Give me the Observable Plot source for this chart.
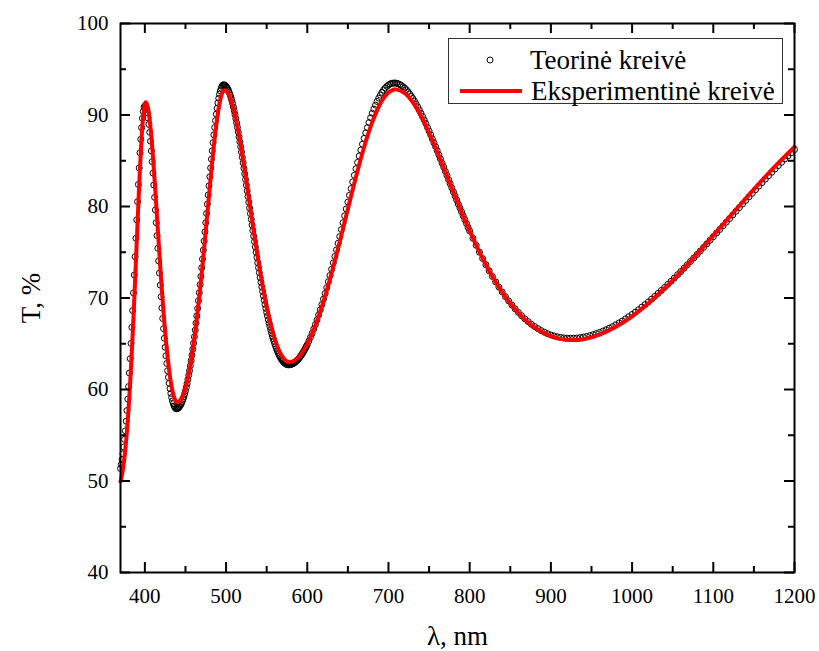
<!DOCTYPE html>
<html><head><meta charset="utf-8">
<script src="https://cdn.jsdelivr.net/npm/d3@7"></script>
<script src="https://cdn.jsdelivr.net/npm/@observablehq/plot@0.6"></script>
<style>
html,body{margin:0;padding:0;background:#fff;}
#wrap{position:relative;width:819px;height:651px;}
#legend{position:absolute;left:448px;top:38px;}
#legend svg{overflow:visible;}
</style></head><body><div id="wrap"></div>
<script>
// Tick values
const xTicksMajor = [400,500,600,700,800,900,1000,1100,1200];
const xTicksMinor = [450,550,650,750,850,950,1050,1150];
const yTicksMajor = [40,50,60,70,80,90,100];
const yTicksMinor = [45,55,65,75,85,95];

// Series names
const seriesNames = ["Teorinė kreivė", "Eksperimentinė kreivė"];

// Theoretical curve (circles): 370–600 nm every 1 nm
const theoryStart1 = 370, theoryStep1 = 1;
const theoryT1 = [
51.37,51.81,52.34,52.97,53.71,54.55,55.49,56.54,57.70,58.96,60.32,61.80,63.37,65.04,66.80,68.63,70.55,72.51,74.51,76.53,78.54,80.52,82.41,84.21,85.87,87.34,88.61,89.64,90.38,90.84,91.00,
90.92,90.66,90.25,89.68,88.97,88.11,87.14,86.07,84.90,83.65,82.35,81.00,79.62,78.23,76.83,75.44,74.06,72.72,71.41,70.14,68.92,67.76,66.65,65.60,64.61,63.69,62.84,62.05,61.33,60.68,60.09,59.58,59.13,58.75,58.45,58.21,58.04,57.93,57.90,
57.92,57.96,58.05,58.16,58.30,58.48,58.69,58.93,59.21,59.52,59.86,60.23,60.64,61.08,61.55,62.05,62.59,63.16,63.76,64.40,65.06,65.76,66.49,67.25,68.04,68.86,69.71,70.58,71.46,72.36,73.30,74.26,75.23,76.22,77.23,78.23,79.24,80.26,81.26,82.26,83.25,84.22,85.17,86.09,86.98,87.83,88.63,89.39,90.09,90.74,91.32,91.83,92.27,92.64,92.93,93.13,93.26,93.30,
93.28,93.23,93.14,93.02,92.87,92.68,92.45,92.20,91.91,91.60,91.26,90.88,90.48,90.06,89.61,89.14,88.65,88.15,87.62,87.08,86.52,85.95,85.37,84.77,84.17,83.56,82.95,82.33,81.71,81.09,80.46,79.84,79.22,78.60,77.98,77.37,76.77,76.17,75.58,75.00,74.43,73.86,73.31,72.77,72.23,71.72,71.21,70.71,70.23,69.76,69.31,68.87,68.44,68.03,67.63,67.25,66.88,66.53,66.19,65.86,65.56,65.26,64.99,64.73,64.48,64.25,64.04,63.84,63.66,63.49,63.34,63.21,63.09,62.98,62.90,62.83,62.77,62.73,62.71,62.70,
62.70,62.72,62.74,62.77,62.81,62.86,62.92,62.98,63.06,63.14,63.23,63.32,63.43,63.54,63.67,63.80,63.93,64.08,64.23,64.39,64.56,64.73,64.91
];
// 602–800 nm every 2 nm
const theoryStart2 = 602, theoryStep2 = 2;
const theoryT2 = [
65.30,65.71,66.14,66.61,67.10,67.60,68.14,68.70,69.28,69.88,70.50,71.13,71.79,72.46,73.14,73.84,74.54,75.26,75.98,76.71,77.48,78.23,78.98,79.73,80.48,81.22,81.96,82.69,83.41,84.13,84.82,85.51,86.17,86.81,87.44,88.04,88.62,89.17,89.70,90.19,90.65,91.08,91.48,91.84,92.17,92.47,92.73,92.95,93.13,93.28,93.39,93.46,93.49,
93.50,93.47,93.41,93.33,93.22,93.09,92.93,92.75,92.54,92.31,92.06,91.79,91.51,91.20,90.88,90.54,90.19,89.82,89.45,89.06,88.65,88.25,87.83,87.40,86.97,86.54,86.10,85.65,85.20,84.75,84.30,83.84,83.39,82.94,82.49,82.04,81.59,81.15,80.71,80.27,79.84,79.42,78.99,78.57,78.16,77.72,77.32
];
// 804–1200 nm every 4 nm
const theoryStart3 = 804, theoryStep3 = 4;
const theoryT3 = [
76.53,75.76,75.02,74.31,73.63,72.97,72.35,71.76,71.19,70.66,70.15,69.68,69.23,68.81,68.42,68.06,67.72,67.42,67.13,66.88,66.65,66.44,66.26,66.10,65.96,65.85,65.76,65.69,65.64,65.61,65.60,
65.61,65.63,65.67,65.73,65.80,65.89,65.99,66.11,66.23,66.38,66.53,66.70,66.88,67.07,67.28,67.49,67.72,67.96,68.20,68.46,68.72,69.00,69.28,69.57,69.88,70.18,70.50,70.82,71.15,71.49,71.83,72.18,72.54,72.89,73.26,73.63,74.00,74.38,74.76,75.14,75.53,75.92,76.31,76.70,77.10,77.49,77.89,78.29,78.68,79.08,79.48,79.88,80.27,80.66,81.06,81.45,81.84,82.22,82.61,82.99,83.36,83.74,84.10,84.47,84.83,85.19,85.54,85.88,86.22
];

// Experimental curve (red line)
const redX = [370,372,374,376,378,380,382,384,386,388,390,392,394,396,398,400,401,
402,404,406,408,410,412,414,416,418,420,422,424,426,428,430,432,434,436,438,440,
442,444,446,448,450,452,454,456,458,460,462,464,466,468,470,472,474,476,478,480,482,484,486,488,490,492,494,496,498,
502,506,510,514,518,522,526,530,534,538,542,546,550,554,558,562,566,570,574,578,
585,590,595,600,605,610,615,620,625,630,635,640,645,650,655,660,665,670,675,680,685,690,695,700,705,709,
720,730,740,750,760,770,780,790,800,810,820,830,840,850,860,870,880,890,900,910,920,926,
940,960,980,1000,1020,1040,1060,1080,1100,1120,1140,1160,1180,1200];
const redT = [49.94,50.72,51.90,53.50,55.53,57.99,60.89,64.22,67.93,71.95,76.14,80.31,84.20,87.52,89.94,91.23,91.40,
91.32,90.66,89.40,87.60,85.39,82.88,80.18,77.42,74.68,72.05,69.58,67.32,65.29,63.52,62.02,60.79,59.83,59.15,58.74,58.60,
58.66,58.85,59.17,59.61,60.18,60.88,61.71,62.66,63.75,64.95,66.28,67.73,69.29,70.96,72.68,74.52,76.41,78.34,80.28,82.20,84.08,85.86,87.51,89.00,90.28,91.32,92.08,92.55,92.70,
92.44,91.65,90.38,88.71,86.71,84.50,82.13,79.72,77.33,75.02,72.84,70.84,69.04,67.45,66.10,64.99,64.12,63.50,63.12,63.00,
63.21,63.61,64.19,64.96,65.90,67.00,68.25,69.63,71.13,72.73,74.42,76.16,77.94,79.74,81.52,83.26,84.93,86.50,87.94,89.22,90.32,91.25,91.95,92.46,92.73,92.80,
92.39,91.39,89.90,88.06,85.98,83.79,81.58,79.41,77.34,75.41,73.64,72.06,70.65,69.42,68.37,67.49,66.78,66.23,65.82,65.56,65.42,65.40,
65.50,66.00,66.85,68.00,69.43,71.06,72.86,74.79,76.81,78.85,80.88,82.86,84.73,86.50];

// ---- build tables ----
const theory = [];
[[theoryStart1, theoryStep1, theoryT1],[theoryStart2, theoryStep2, theoryT2],[theoryStart3, theoryStep3, theoryT3]]
  .forEach(([s, st, arr]) => arr.forEach((t, i) => theory.push({lambda: s + i * st, T: t})));
const experiment = redX.map((x, i) => ({lambda: x, T: redT[i]}));

const W = 819, H = 651, mL = 120, mR = 25, mT = 23, mB = 79;
const plotW = W - mL - mR, plotH = H - mT - mB;
const serif = '"Liberation Serif", "Times New Roman", Times, serif';

const chart = Plot.plot({
  width: W, height: H,
  marginLeft: mL, marginRight: mR, marginTop: mT, marginBottom: mB,
  style: {fontFamily: serif, fontSize: "21px", color: "#000", background: "#fff", overflow: "visible"},
  x: {domain: [370, 1200], ticks: xTicksMajor, tickSize: 0, tickPadding: 16, tickFormat: "d", label: null},
  y: {domain: [40, 100], ticks: yTicksMajor, tickSize: 0, tickPadding: 12, tickFormat: "d", label: null},
  marks: [
    Plot.dot(theory, {x: "lambda", y: "T", r: 3, stroke: "#000", strokeWidth: 1, fill: "none"}),
    Plot.line(experiment, {x: "lambda", y: "T", stroke: "#ff0000", strokeWidth: 4, curve: "catmull-rom"}),
    Plot.frame({stroke: "#000", strokeWidth: 2}),
    // bottom ticks (inward)
    Plot.tickX(xTicksMajor, {x: d => d, insetTop: plotH - 10, stroke: "#000", strokeWidth: 2}),
    Plot.tickX(xTicksMinor, {x: d => d, insetTop: plotH - 6, stroke: "#000", strokeWidth: 2}),
    // top ticks (inward)
    Plot.tickX(xTicksMajor, {x: d => d, insetBottom: plotH - 10, stroke: "#000", strokeWidth: 2}),
    Plot.tickX(xTicksMinor, {x: d => d, insetBottom: plotH - 6, stroke: "#000", strokeWidth: 2}),
    // left ticks
    Plot.tickY(yTicksMajor, {y: d => d, insetRight: plotW - 10, stroke: "#000", strokeWidth: 2}),
    Plot.tickY(yTicksMinor, {y: d => d, insetRight: plotW - 6, stroke: "#000", strokeWidth: 2}),
    // right ticks
    Plot.tickY(yTicksMajor, {y: d => d, insetLeft: plotW - 10, stroke: "#000", strokeWidth: 2}),
    Plot.tickY(yTicksMinor, {y: d => d, insetLeft: plotW - 6, stroke: "#000", strokeWidth: 2}),
    // axis titles
    Plot.text(["T, %"], {text: d => d, frameAnchor: "left", textAnchor: "middle", lineAnchor: "middle", dx: -89, rotate: -90, fontSize: 27, fontFamily: serif, fill: "#000"}),
    Plot.text(["λ, nm"], {text: d => d, frameAnchor: "bottom", textAnchor: "middle", lineAnchor: "middle", dy: 64, fontSize: 27, fontFamily: serif, fill: "#000"})
  ]
});
const wrap = document.getElementById("wrap");
wrap.appendChild(chart);

// Legend
const lg = document.createElement("div");
lg.id = "legend";
lg.innerHTML = `<svg width="335" height="66" xmlns="http://www.w3.org/2000/svg" style="display:block;font-family:${serif.replace(/"/g, "'")}">
  <rect x="0.5" y="0.5" width="334" height="65" fill="#fff" stroke="#333" stroke-width="1"/>
  <circle cx="42" cy="22" r="3" fill="none" stroke="#000" stroke-width="1"/>
  <text x="82" y="31" font-size="27" fill="#000">${seriesNames[0]}</text>
  <line x1="12" x2="74" y1="53" y2="53" stroke="#ff0000" stroke-width="4"/>
  <text x="83" y="62" font-size="27" fill="#000">${seriesNames[1]}</text>
</svg>`;
wrap.appendChild(lg);
</script>
</body></html>
